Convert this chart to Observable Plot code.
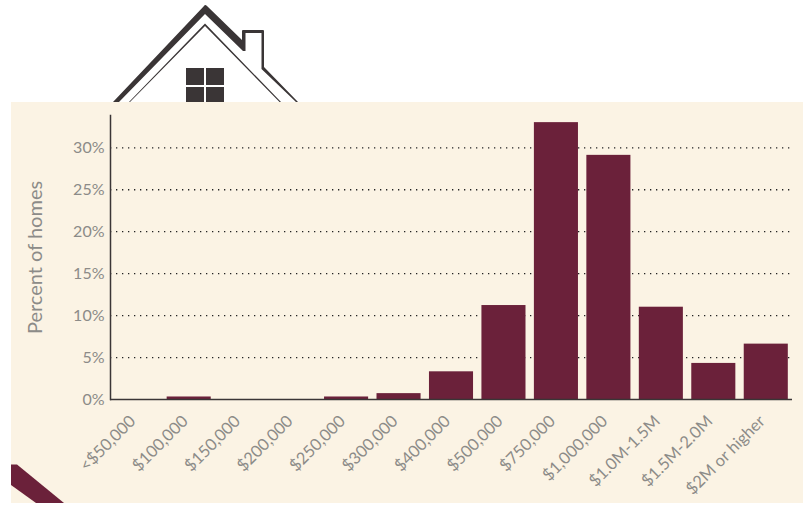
<!DOCTYPE html>
<html>
<head>
<meta charset="utf-8">
<script src="https://cdn.jsdelivr.net/npm/d3@7"></script>
<script src="https://cdn.jsdelivr.net/npm/@observablehq/plot@0.6"></script>
<style>
html,body{margin:0;padding:0;background:#fff;}
#wrap{position:relative;width:803px;height:507px;overflow:hidden;}
#deco,#chart{position:absolute;left:0;top:0;}
#chart svg{background:transparent;display:block;}
</style>
</head>
<body>
<div id="wrap">
<svg id="deco" width="803" height="507" viewBox="0 0 803 507">
  <g fill="#3a3536">
    <path d="M113,102 L204,6 Q205,4 207,6 L242,40 L242,31 Q242,30 243,30 L263,30 Q264,30 264,31 L264,67 L298,102 L296,102 L261.5,69 L261.5,33 L245.5,33 L245.5,51 L243,51 L205,14 L119,102 Z"/>
    <path d="M129,102 L205,23.5 L281,102 L279.5,102 L205,26 L130,102 Z"/>
    <rect x="186" y="68" width="18" height="17"/>
    <rect x="206" y="68" width="18" height="17"/>
    <rect x="186" y="87" width="18" height="16"/>
    <rect x="206" y="87" width="18" height="16"/>
  </g>
  <rect x="11" y="102" width="792" height="401" fill="#fbf3e4"/>
  <path d="M11,464.5 L17,464.5 L64,503 L36,503 L11,485 Z" fill="#6b213a"/>
</svg>
<div id="chart"></div>
</div>
<script>
const categories = ["<$50,000","$100,000","$150,000","$200,000","$250,000","$300,000","$400,000","$500,000","$750,000","$1,000,000","$1.0M-1.5M","$1.5M-2.0M","$2M or higher"];
const percents = [0, 0.3, 0, 0, 0.3, 0.7, 3.3, 11.2, 33.0, 29.1, 11, 4.3, 6.6];
const yTicks = [0, 5, 10, 15, 20, 25, 30];
const rows = categories.map((c, i) => ({category: c, percent: percents[i]}));

const ink = "#3a3536", label = "#8c8b88", bar = "#6b213a";
const plot = Plot.plot({
  width: 803, height: 507,
  marginLeft: 110, marginRight: 11, marginTop: 115, marginBottom: 108,
  style: {background: "transparent", fontFamily: "Lato, sans-serif", fontSize: "16px", color: label},
  x: {domain: categories, paddingInner: 0.16, paddingOuter: 0.08, align: 0.5, round: false, label: null},
  y: {domain: [0, 33.85], label: null},
  marks: [
    Plot.ruleY(yTicks.filter(d => d > 0), {stroke: "#222", strokeWidth: 1.3, strokeDasharray: "1.3,4.7"}),
    Plot.barY(rows, {x: "category", y: "percent", fill: bar}),
    Plot.frame({anchor: "left", stroke: ink, strokeWidth: 1.5}),
    Plot.ruleY([0], {stroke: ink, strokeWidth: 1.5}),
    Plot.axisY({ticks: yTicks, tickSize: 0, tickPadding: 6, tickFormat: d => d + "%", label: null, fontSize: 16, fill: label}),
    Plot.axisX({tickSize: 0, tickPadding: 10, tickRotate: -45, label: null, fontSize: 16.5, fill: label, dx: -4, dy: 9}),
    Plot.text(["Percent of homes"], {frameAnchor: "left", textAnchor: "middle", dx: -75, rotate: -90, fontSize: 20, fill: label})
  ]
});
document.getElementById("chart").appendChild(plot);
</script>
</body>
</html>
